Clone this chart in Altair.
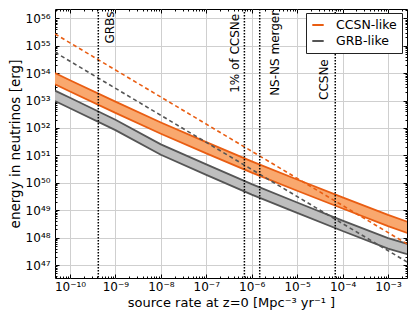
import altair as alt
import pandas as pd

# ---- data (log10 values) ----
rate_log10 = [-10.33, -10, -9, -8, -7, -6, -5, -4, -3, -2.53]
ccsn_hi_log10 = [54.0, 53.74, 52.96, 52.2, 51.48, 50.78, 50.12, 49.47, 48.83, 48.55]
ccsn_lo_log10 = [53.59, 53.33, 52.55, 51.79, 51.07, 50.37, 49.71, 49.06, 48.42, 48.14]
grb_hi_log10 = [53.36, 53.1, 52.3, 51.4, 50.67, 49.95, 49.28, 48.62, 47.98, 47.75]
grb_lo_log10 = [52.98, 52.72, 51.92, 51.02, 50.29, 49.57, 48.9, 48.24, 47.6, 47.37]

dash_rate_log10 = [-10.33, -2.53]
ccsn_dash_log10 = [55.43, 47.72]
grb_dash_log10 = [54.76, 47.06]

series_names = ["CCSN-like", "GRB-like"]

source_names = ["GRBs", "1% of CCSNe", "NS-NS merger", "CCSNe"]
source_rates = [4.2e-10, 6.9e-7, 1.5e-6, 6.9e-5]
label_height_log10 = [55.08, 53.28, 53.17, 53.02]

x_major = [1e-10, 1e-9, 1e-8, 1e-7, 1e-6, 1e-5, 1e-4, 1e-3]
y_major = [1e47, 1e48, 1e49, 1e50, 1e51, 1e52, 1e53, 1e54, 1e55, 1e56]

# ---- styling ----
ORANGE = "#e95d12"
ORANGE_FILL = "#f9a86e"
GRAY = "#555555"
GRAY_FILL = "#bebebe"
FONT = "DejaVu Sans"
W, H = 352, 269

# ---- tables ----
band_rows = []
edge_rows = []
for name, hi, lo in [(series_names[0], ccsn_hi_log10, ccsn_lo_log10),
                     (series_names[1], grb_hi_log10, grb_lo_log10)]:
    for lx, h, l in zip(rate_log10, hi, lo):
        band_rows.append({"rate": 10 ** lx, "hi": 10 ** h, "lo": 10 ** l, "series": name})
        edge_rows.append({"rate": 10 ** lx, "E": 10 ** h, "series": name, "edge": "hi"})
        edge_rows.append({"rate": 10 ** lx, "E": 10 ** l, "series": name, "edge": "lo"})
band_df = pd.DataFrame(band_rows)
edge_df = pd.DataFrame(edge_rows)

dash_rows = []
for name, vals in [(series_names[0], ccsn_dash_log10), (series_names[1], grb_dash_log10)]:
    for lx, v in zip(dash_rate_log10, vals):
        dash_rows.append({"rate": 10 ** lx, "E": 10 ** v, "series": name})
dash_df = pd.DataFrame(dash_rows)

src_df = pd.DataFrame({"name": source_names, "rate": source_rates,
                       "ylab": [10 ** v for v in label_height_log10]})

xs = alt.Scale(type="log", domain=[10 ** -10.33, 10 ** -2.582], nice=False)
ys = alt.Scale(type="log", domain=[10 ** 46.526, 10 ** 56.339], nice=False)
color_scale = alt.Scale(domain=series_names, range=[ORANGE, GRAY])

SUP = "⁰¹²³⁴⁵⁶⁷⁸⁹"
e = "round(log(datum.value)/LN10)"
label_expr = (
    f"'10' + ({e} < 0 ? '⁻' : '') + "
    f"(abs({e}) >= 10 ? substring('{SUP}', floor(abs({e})/10), floor(abs({e})/10)+1) : '') + "
    f"substring('{SUP}', abs({e})%10, abs({e})%10+1)"
)

def minors(lo_exp, hi_exp, lo, hi):
    out = []
    for k in range(lo_exp, hi_exp + 1):
        for m in range(2, 10):
            v = m * 10.0 ** k
            if lo <= v <= hi:
                out.append(v)
    return out

x_minor = minors(-11, -3, 10 ** -10.33, 10 ** -2.582)
y_minor = minors(46, 56, 10 ** 46.526, 10 ** 56.339)

# ---- layers ----
def area_layer(name, fill):
    return alt.Chart(band_df).transform_filter(alt.datum.series == name).mark_area(
        color=fill, opacity=1, clip=True).encode(
        x=alt.X("rate:Q", scale=xs, axis=None),
        y=alt.Y("hi:Q", scale=ys, axis=None),
        y2="lo:Q",
    )

def dash_layer(name, stroke):
    return alt.Chart(dash_df).transform_filter(alt.datum.series == name).mark_line(
        color=stroke, strokeWidth=1.6, strokeDash=[4, 3], clip=True).encode(
        x=alt.X("rate:Q", scale=xs, axis=None),
        y=alt.Y("E:Q", scale=ys, axis=None),
    )

edges = alt.Chart(edge_df).mark_line(strokeWidth=1.8, clip=True).encode(
    x=alt.X("rate:Q", scale=xs, axis=None),
    y=alt.Y("E:Q", scale=ys, axis=None),
    color=alt.Color("series:N", scale=color_scale, legend=alt.Legend(
        title=None, orient="none", legendX=251, legendY=4,
        symbolType="stroke", symbolStrokeWidth=2, symbolSize=130,
        labelFont=FONT, labelFontSize=12.5, labelColor="black", labelOffset=11,
        rowPadding=2, padding=5, strokeColor="#222222", fillColor="white",
        cornerRadius=0)),
    detail="edge:N",
)

rules = alt.Chart(src_df).mark_rule(color="black", strokeWidth=1.5, strokeDash=[1.5, 1.5]).encode(
    x=alt.X("rate:Q", scale=xs, axis=None),
)

def label_layer(name, baseline, dy):
    return alt.Chart(src_df).transform_filter(alt.datum.name == name).mark_text(
        angle=270, align="left", baseline=baseline, dy=dy,
        font=FONT, fontSize=12, color="black").encode(
        x=alt.X("rate:Q", scale=xs, axis=None),
        y=alt.Y("ylab:Q", scale=ys, axis=None),
        text="name:N",
    )

labels = [
    label_layer("GRBs", "top", 7),
    label_layer("1% of CCSNe", "alphabetic", -5),
    label_layer("NS-NS merger", "top", 10),
    label_layer("CCSNe", "alphabetic", -7),
]

# main axes (labels, grid)
main_axes = alt.Chart(dash_df).mark_point(opacity=0).encode(
    x=alt.X("rate:Q", scale=xs, axis=alt.Axis(
        orient="bottom", values=x_major, labelExpr=label_expr, grid=True, ticks=False,
        domain=False, labelPadding=3, labelFont=FONT, labelFontSize=12, labelColor="black",
        title="source rate at z=0 [Mpc⁻³ yr⁻¹ ]", titleFont=FONT, titleFontSize=13,
        titleFontWeight="normal", titleColor="black", titlePadding=4)),
    y=alt.Y("E:Q", scale=ys, axis=alt.Axis(
        orient="left", values=y_major, labelExpr=label_expr, grid=True, ticks=False,
        domain=False, labelPadding=5, labelFont=FONT, labelFontSize=12, labelColor="black",
        title="energy in neutrinos [erg]", titleFont=FONT, titleFontSize=13.5,
        titleFontWeight="normal", titleColor="black", titlePadding=3)),
)

def tick_layer(xorient, xvals, yorient, yvals, size):
    return alt.Chart(dash_df).mark_point(opacity=0).encode(
        x=alt.X("rate:Q", scale=xs, axis=alt.Axis(
            orient=xorient, offset=-H, values=xvals, tickSize=size, labels=False,
            domain=False, grid=False, title=None, tickColor="black")),
        y=alt.Y("E:Q", scale=ys, axis=alt.Axis(
            orient=yorient, offset=-W, values=yvals, tickSize=size, labels=False,
            domain=False, grid=False, title=None, tickColor="black")),
    )

ticks = [
    tick_layer("top", x_major, "right", y_major, 4),
    tick_layer("top", x_minor, "right", y_minor, 2),
    tick_layer("bottom", x_major, "left", y_major, 4),
    tick_layer("bottom", x_minor, "left", y_minor, 2),
]

chart = alt.layer(
    area_layer(series_names[0], ORANGE_FILL), area_layer(series_names[1], GRAY_FILL),
    edges,
    dash_layer(series_names[0], ORANGE), dash_layer(series_names[1], GRAY),
    rules, *labels, main_axes, *ticks
).resolve_axis(
    x="independent", y="independent"
).properties(
    width=W, height=H,
    autosize=alt.AutoSizeParams(type="none"),
    padding={"left": 47, "top": 1, "right": 1, "bottom": 36},
).configure_view(
    stroke="black", strokeWidth=1
).configure_axis(
    gridColor="#cfcfcf", gridWidth=1
)

chart.save("out.html", embed_options={"renderer": "svg", "actions": False})
